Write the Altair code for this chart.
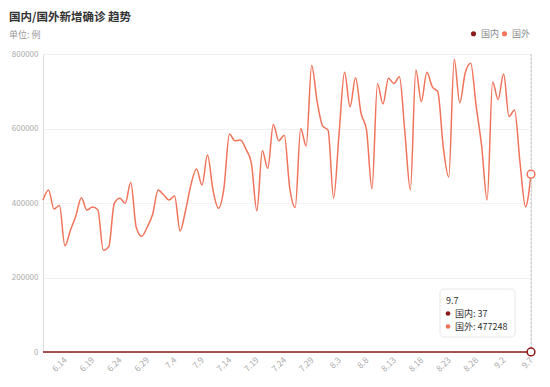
import altair as alt
import pandas as pd

FONT = "Noto Sans CJK SC"
title_text = "国内/国外新增确诊 趋势"
subtitle_text = "单位: 例"
series_names = ["国内", "国外"]
series_colors = ["#8B1A1A", "#F0735A"]

dates = [f"{d.month}.{d.day}" for d in pd.date_range("2020-06-10", "2020-09-07")]
tick_labels = dates[4::5]

foreign = [
    408000, 435000, 384000, 393000, 285000, 327000, 366000, 414000, 381000, 389000,
    382000, 273000, 283000, 399000, 413000, 399000, 455000, 335000, 311000, 335000,
    370000, 435000, 422000, 408000, 419000, 325000, 380000, 450000, 491000, 448000,
    529000, 435000, 386000, 440000, 585000, 567000, 569000, 545000, 507000, 379000,
    540000, 493000, 611000, 567000, 582000, 440000, 388000, 600000, 553000, 769000,
    672000, 607000, 595000, 413000, 587000, 751000, 658000, 736000, 641000, 596000,
    438000, 720000, 666000, 735000, 721000, 739000, 590000, 435000, 757000, 672000,
    751000, 712000, 699000, 550000, 470000, 786000, 669000, 749000, 775000, 660000,
    553000, 408000, 725000, 678000, 746000, 632000, 650000, 508000, 390000, 477248,
]
domestic = [
    44, 31, 57, 28, 40, 36, 22, 49, 53, 30,
    27, 45, 38, 61, 34, 29, 42, 55, 33, 47,
    39, 26, 51, 44, 36, 58, 41, 32, 48, 37,
    62, 35, 43, 29, 54, 46, 38, 31, 57, 40,
    33, 49, 45, 28, 36, 60, 42, 34, 39, 51,
    47, 30, 44, 38, 56, 35, 41, 27, 48, 43,
    32, 53, 37, 46, 29, 50, 40, 34, 58, 44,
    31, 39, 47, 36, 52, 28, 45, 41, 33, 49,
    38, 55, 30, 42, 46, 35, 40, 51, 29, 37,
]

rows = []
for i, d in enumerate(dates):
    rows.append({"date": d, "series": "国内", "value": domestic[i]})
    rows.append({"date": d, "series": "国外", "value": foreign[i]})
df = pd.DataFrame(rows)
last = df[df["date"] == dates[-1]]

cscale = alt.Scale(domain=series_names, range=series_colors)

xenc = alt.X("date:O", sort=dates,
             scale=alt.Scale(type="point", padding=0),
             axis=alt.Axis(values=tick_labels, labelAngle=-45, labelAlign="right",
                           labelBaseline="middle", labelFontSize=8.5, labelColor="#aaaaaa",
                           labelPadding=6, ticks=False, domain=False, grid=False,
                           title=None, labelFont=FONT))
yenc = alt.Y("value:Q", scale=alt.Scale(domain=[0, 800000]),
             axis=alt.Axis(values=[0, 200000, 400000, 600000, 800000], format="d",
                           labelFontSize=8, labelColor="#aaaaaa", labelPadding=5,
                           ticks=False, domain=False, gridColor="#f2f2f2",
                           title=None, labelFont=FONT))

lines = alt.Chart(df).mark_line(interpolate="monotone", strokeWidth=1.5).encode(
    x=xenc, y=yenc, color=alt.Color("series:N", scale=cscale, legend=None))

rule = alt.Chart(pd.DataFrame({"date": [dates[-1]]})).mark_rule(
    color="#c8c8c8", strokeDash=[2, 2], strokeWidth=1).encode(
    x=alt.X("date:O", sort=dates))

pts = alt.Chart(last).mark_point(filled=True, fill="white", size=60,
                                 strokeWidth=1.5, opacity=1).encode(
    x=alt.X("date:O", sort=dates), y="value:Q",
    stroke=alt.Stroke("series:N", scale=cscale, legend=None))

leg_df = pd.DataFrame({"series": series_names})
legend_dots = alt.Chart(leg_df).mark_circle(size=0, opacity=0).encode(
    color=alt.Color("series:N", scale=cscale,
                    legend=alt.Legend(orient="none", legendX=426, legendY=-25,
                                      direction="horizontal", title=None,
                                      symbolType="circle", symbolSize=26,
                                      symbolOpacity=1,
                                      labelFontSize=9, labelColor="#888888",
                                      labelFont=FONT, labelOffset=3, columnPadding=0)))

box = alt.Chart(pd.DataFrame({"a": [1]})).mark_rect(
    fill="white", stroke="#e6e6e6", cornerRadius=4, strokeWidth=1).encode(
    x=alt.value(397), x2=alt.value(472), y=alt.value(235), y2=alt.value(283))

tip_df = pd.DataFrame({
    "txt": [dates[-1], f"国内: {domestic[-1]}", f"国外: {foreign[-1]}"],
    "px": [403, 412, 412],
    "py": [246.5, 259.5, 272.5],
})
tip_text = alt.Chart(tip_df).mark_text(align="left", baseline="middle", fontSize=9,
                                        color="#333333", font=FONT).encode(
    x=alt.X("px:Q", scale=None), y=alt.Y("py:Q", scale=None), text="txt:N")

dot_df = pd.DataFrame({"series": series_names, "px": [405, 405], "py": [259.5, 272.5]})
tip_dots = alt.Chart(dot_df).mark_circle(size=22, opacity=1).encode(
    x=alt.X("px:Q", scale=None), y=alt.Y("py:Q", scale=None),
    color=alt.Color("series:N", scale=cscale, legend=None))

title_df = pd.DataFrame({"txt": [title_text, subtitle_text],
                         "px": [-34, -34], "py": [-36, -19]})
title_t = alt.Chart(title_df.iloc[[0]]).mark_text(
    align="left", baseline="middle", fontSize=11.5, fontWeight="bold",
    color="#333333", font=FONT).encode(
    x=alt.X("px:Q", scale=None), y=alt.Y("py:Q", scale=None), text="txt:N")
sub_t = alt.Chart(title_df.iloc[[1]]).mark_text(
    align="left", baseline="middle", fontSize=9, color="#999999", font=FONT).encode(
    x=alt.X("px:Q", scale=None), y=alt.Y("py:Q", scale=None), text="txt:N")

chart = alt.layer(lines, rule, pts, box, tip_dots, tip_text, title_t, sub_t,
                  legend_dots).resolve_scale(
    color="independent", stroke="independent"
).properties(
    width=488, height=298,
    autosize=alt.AutoSizeParams(type="none"),
    padding={"left": 35, "top": 46, "right": 11, "bottom": 27},
).configure_view(stroke=None).configure(font=FONT)

chart.save("out.html", embed_options={"renderer": "svg", "actions": False})
